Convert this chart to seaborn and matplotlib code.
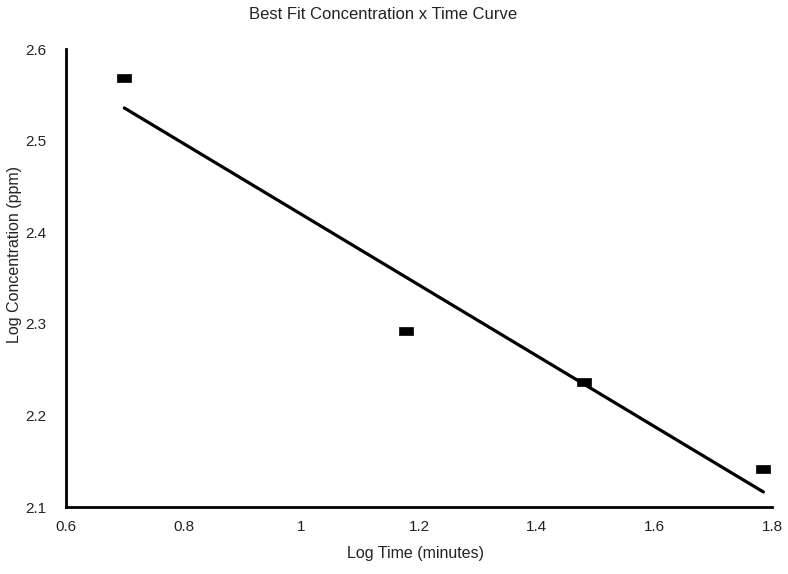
import numpy as np
import pandas as pd
import matplotlib
matplotlib.use("Agg")
import matplotlib.pyplot as plt
import seaborn as sns

# values
log_time = [0.699, 1.178, 1.480, 1.785]
log_conc = [2.568, 2.292, 2.236, 2.141]
x_ticks = [0.6, 0.8, 1.0, 1.2, 1.4, 1.6, 1.8]
x_tick_labels = ["0.6", "0.8", "1", "1.2", "1.4", "1.6", "1.8"]
y_ticks = [2.1, 2.2, 2.3, 2.4, 2.5, 2.6]

df = pd.DataFrame({"time": log_time, "conc": log_conc})

sns.set_style("white")
plt.rcParams["font.family"] = ["Liberation Sans", "DejaVu Sans"]

fig = plt.figure(figsize=(7.88, 5.74), dpi=100)
ax = fig.add_axes([0.0838, 0.1167, 0.8962, 0.7979])

# best fit line over the data range
sns.regplot(data=df, x="time", y="conc", ci=None, truncate=True, scatter=False,
            line_kws=dict(color="black", linewidth=2.3), ax=ax)

# rectangular markers like the original
rect = [(-1, -0.62), (1, -0.62), (1, 0.62), (-1, 0.62), (-1, -0.62)]
sns.scatterplot(data=df, x="time", y="conc", marker=rect, s=105, color="black",
                edgecolor="black", linewidth=0.5, ax=ax, zorder=3)

ax.set_xlim(0.6, 1.8)
ax.set_ylim(2.1, 2.6)
ax.set_xticks(x_ticks)
ax.set_xticklabels(x_tick_labels)
ax.set_yticks(y_ticks)
ax.tick_params(length=0, labelsize=11, colors="#222222")
ax.tick_params(axis="x", pad=9)
ax.tick_params(axis="y", pad=14)

for side in ["top", "right"]:
    ax.spines[side].set_visible(False)
for side in ["left", "bottom"]:
    ax.spines[side].set_color("black")
    ax.spines[side].set_linewidth(2)

ax.set_xlabel("")
ax.set_ylabel("")
fig.text(0.527, 0.036, "Log Time (minutes)", ha="center", va="center",
         fontsize=11.5, color="#222222")
fig.text(0.018, 0.556, "Log Concentration (ppm)", ha="center", va="center",
         rotation=90, fontsize=11.5, color="#222222")
fig.text(0.486, 0.974, "Best Fit Concentration x Time Curve", ha="center",
         va="center", fontsize=12, color="#222222")

fig.savefig("out.png", dpi=100, facecolor="white")
